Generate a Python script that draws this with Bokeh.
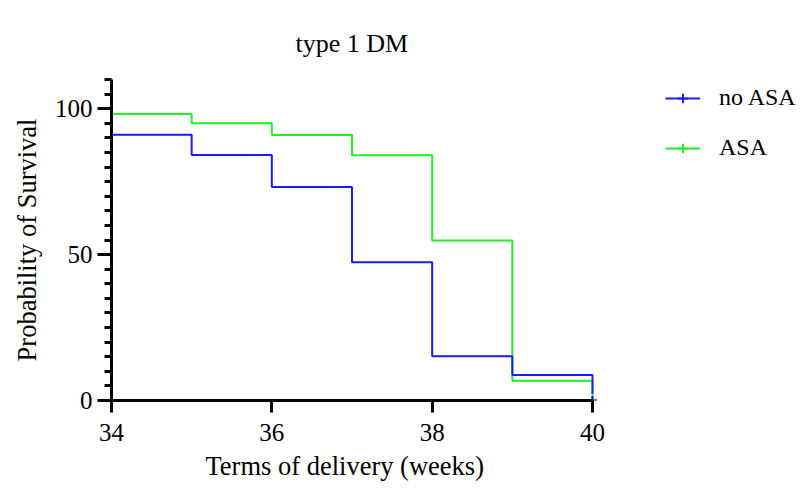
from bokeh.plotting import figure
from bokeh.models import Range1d, FixedTicker, SingleIntervalTicker, Legend, LegendItem, Title
from bokeh.embed import file_html
from bokeh.resources import INLINE

weeks = [34, 35, 36, 37, 38, 39, 40]
no_asa = [91.1, 84.1, 73.2, 47.4, 15.2, 8.7, 2.3]
asa = [98.2, 95.0, 91.0, 84.0, 54.8, 6.8, 0]
censor_weeks = [40]
censor_surv = [0]
x_ticks = [34, 36, 38, 40]
series_names = ["no ASA", "ASA"]
series_colors = ["#1a1aff", "#22ee22"]

FONT = "Liberation Serif"

W, H = 803, 489
LEFT, RIGHT, TOP, BOTTOM = 111, 3, 79, 89
AXIS_PX = 481  # pixel length of the 34..40 axis
frame_w = W - LEFT - RIGHT
x_lo, x_hi = weeks[0], weeks[-1]
x_end = x_lo + (x_hi - x_lo) * frame_w / AXIS_PX

p = figure(width=W, height=H, output_backend="svg", toolbar_location=None,
           x_range=Range1d(x_lo, x_end), y_range=Range1d(0, 110),
           min_border_left=LEFT, min_border_right=RIGHT, min_border_top=TOP,
           min_border_bottom=BOTTOM)
p.title.text = "type 1 DM"
p.title.align = "left"
p.title.vertical_align = "top"
p.title.text_font = FONT
p.title.text_font_size = "26px"
p.title.text_font_style = "normal"
p.title.text_color = "black"
p.title.offset = 184
p.title.standoff = 39

p.grid.visible = False
p.outline_line_color = None

for ax in (p.xaxis[0], p.yaxis[0]):
    ax.axis_line_width = 3
    ax.major_tick_line_width = 3
    ax.minor_tick_line_width = 3
    ax.major_tick_in = 0
    ax.minor_tick_in = 0
    ax.major_label_text_font = FONT
    ax.major_label_text_font_size = "25px"
    ax.axis_label_text_font = FONT
    ax.axis_label_text_font_size = "26.5px"
    ax.axis_label_text_font_style = "normal"
    ax.axis_line_color = "black"
    ax.major_tick_line_color = "black"
    ax.minor_tick_line_color = "black"
    ax.major_label_text_color = "black"
    ax.axis_label_text_color = "black"

p.xaxis.ticker = FixedTicker(ticks=x_ticks, minor_ticks=[])
p.xaxis.bounds = (x_lo, x_hi)
p.xaxis.major_tick_out = 12
p.xaxis.major_label_standoff = 11

xlabel = Title(text="Terms of delivery (weeks)", align="left", offset=94,
               text_font=FONT, text_font_size="26.5px", text_font_style="normal",
               text_color="black", standoff=11)
p.add_layout(xlabel, "below")

p.yaxis.ticker = SingleIntervalTicker(interval=50, num_minor_ticks=10)
p.yaxis.major_tick_out = 14
p.yaxis.minor_tick_out = 7
p.yaxis.major_label_standoff = 5
p.yaxis.axis_label = "Probability of Survival"
p.yaxis.axis_label_standoff = 10

renderers = {}
# green drawn first so that blue lies on top, as in the reference
for name, ys, col in reversed(list(zip(series_names, [no_asa, asa], series_colors))):
    r = p.step(x=weeks, y=ys, mode="after", line_color=col, line_width=2)
    m = p.scatter(x=censor_weeks, y=censor_surv, marker="cross", size=9,
                  line_color=col, line_width=2)
    renderers[name] = [r, m]

items = [LegendItem(label=name, renderers=renderers[name]) for name in series_names]

legend = Legend(items=items, location=(554, 239), orientation="vertical",
                padding=0, margin=0, border_line_alpha=0, background_fill_alpha=0,
                glyph_width=35, glyph_height=24, label_height=24, spacing=23,
                label_standoff=19, label_text_font=FONT, label_text_font_size="24px",
                label_text_color="black")
p.add_layout(legend, "center")

open("out.html", "w").write(file_html(p, INLINE))
